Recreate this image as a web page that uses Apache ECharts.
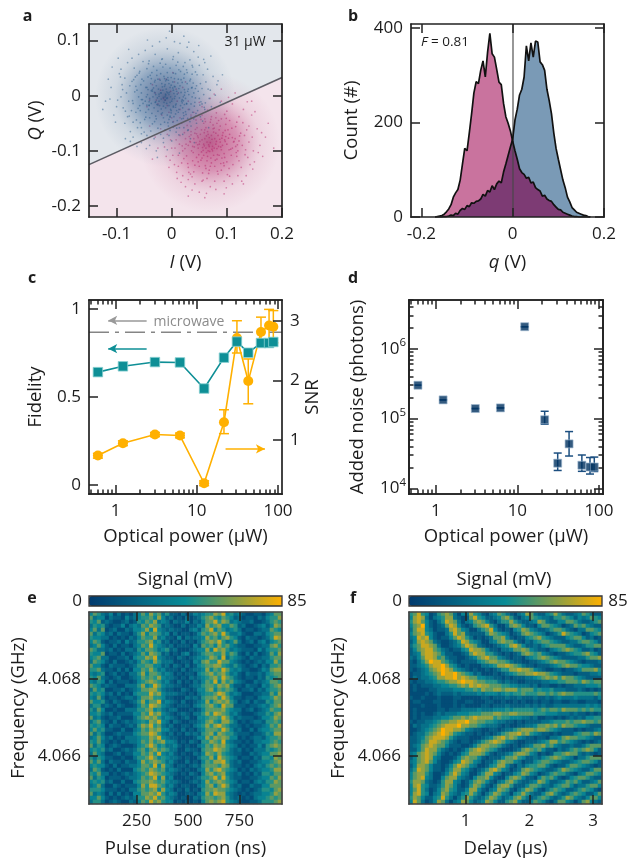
<!DOCTYPE html>
<html><head><meta charset="utf-8"><style>html,body{margin:0;padding:0;background:#fff}#c{width:630px;height:859px}</style>
<script src="https://cdn.jsdelivr.net/npm/echarts@6/dist/echarts.min.js"></script></head><body><div id="c"></div>
<script>
// ---- panel a: I/Q shots in mV, flat x,y lists
const blueShots=[-5,2,-12,-8,3,10,-20,5,8,-15,-30,-12,15,18,-2,-25,-18,22,25,-5,-35,8,12,30,-8,-35,30,12,-25,-28,-40,-5,20,-22,-14,35,5,-5,-3,15,10,3,-22,-18,18,-10,-10,12,-28,18,28,22,-38,22,-45,15,-5,-18,35,-15,-15,-40,2,25,-32,-22,40,5,22,32,-48,-10,-8,42,12,-30,-42,-25,-20,40,7,40,32,-25,-55,5,45,18,-25,30,-12,-2,0,-10,6,16,-16,10,14,-4,-26,-4,24,6,-6,28,-34,-2,4,-38,16,-18,-24,12,-4,6,-9,-14,11,23,-19,-24,-1,33,-30,28,27,-14,37,-2,-44,2,-52,-14,-36,-32,-13,-48,10,-45,26,-34,42,-12,48,8,34,30,16,44,-3,50,-27,46,-43,34,-56,20,-60,-2,-47,-30,-28,-42,-6,-55,18,-42,38,-30,50,-5,52,22,28,42,8,55,-16,52,-36,42,-54,30,-63,10,-58,-18,-40,-40,-20,-52,2,-48,22,-36,-2,-2,-7,5,1,-6,-11,3,6,-1,-15,-3,9,8,-17,16,-23,-10,13,13,-29,2,21,-2,-33,14,19,24,-21,28,-37,-14,31,2,-5,22,-11,-22,-1,-31,-41,-18,36,14,-46,-2,43,-4,-12,20,-27,-16,-3,-12,4,4,-8,-4,17,6,-19,-6,2,14,-14,-12,23,-16,-31,6,29,8,
-95,40,-110,15,-100,-20,-85,-50,-70,-75,-40,-90,-15,-85,20,-70,45,-50,60,-25,70,10,75,35,60,60,40,80,15,95,-10,105,-35,90,-60,75,-80,60,-120,-10,-90,20,-105,-35,-75,-65,-55,-85,-28,-100,0,-82,30,-62,52,-38,68,-5,82,20,65,48,48,70,28,88,5,98,-22,98,-48,82,-72,68,-92,48,-115,30,-82,5,-98,-8,-80,-38,-62,-58,-45,-72,-20,-70,8,-66,35,-55,55,-15,62,25,50,55,33,65,12,78,-8,85,-30,75,-52,62,-68,50,-85,32,-76,18,-88,-22,-70,-48,-50,-66,-32,-78,-5,-72,22,-58,44,-32,58,2,72,-20,57,38,38,52,-65,-30,-78,-10,-66,34,-70,-14,-92,-2,-64,-44,-38,-64,-12,-62,14,-58,40,-42,66,12,46,38,24,60,2,66,-18,66,-42,58,-58,44,-72,26,-84,-28,-55,-58,
-17,-31,-43,11,9,-27,-61,-23,33,27,-7,-49,-39,37,19,-13,-23,3,41,-19,-3,-39,-51,27,13,47,-29,-37,-67,7,3,-57,29,-41,47,-27,-11,57,-33,53,37,39,-49,-43,5,31,-19,-33,23,1,-37,31,-13,17,-57,-27,-1,19,17,29,-27,37,43,13,-41,-11,7,-21,-31,-47,-9,7,25,-29,-53,-7,11,61,35,-39,-65,17,51,-17,-21,59,-45,49,21,53,-71,-9,-3,-63,27,47,-59,41,-35,-51,39,23,53,-11,9,-59,-47,-39,-25,-59,33,-47,-69,29,-73,-27,55,13,61,-13,-17,67,3,71,37,55,-41,63,29,-63,-57,-49,43,43,-63,37,59,-21,-77,-37,-15,-77,13,-71,-55,-69,43,-37,-37,9,-11,27,-15,-19,-23,-1,-9,29,7,-17,-29,-11,-1,-27,23,11,19,-7,-13,31,3,-21,7,-33,-9,-5,37,15,3,-19,13,-25,21,-41,-3,-37,-31,25,-5,-43,5,17,-11,1,21,-31,23,39,-7,33,21,-9,-41,-17,-19,5,-35,11,-25,-17,27,-15,-47,15,3,41,-45,-17,-55,-7,-125,-25,-108,52,-97,68,-84,-78,-63,-92,-26,-112,14,-104,41,-85,67,-58,88,-12,92,38,71,72,49,91,22,108,-4,117,-44,101,-78,84,-102,-48,-112,-6,-89,11,-93,34,-75,-83,-46,-96,-8,-98,34,-78,56,-46,79,1,84,27,58,66,31,97];
const redShots=[70,-85,62,-95,78,-78,55,-80,85,-92,48,-95,92,-72,65,-110,75,-60,100,-88,40,-78,82,-115,60,-62,105,-70,45,-112,30,-90,95,-105,58,-50,72,-122,88,-55,110,-95,35,-65,50,-128,100,-120,115,-78,25,-78,68,-135,90,-135,120,-100,38,-118,20,-100,80,-40,55,-35,105,-45,125,-68,128,-90,15,-72,30,-130,66,-70,74,-100,58,-88,84,-72,52,-70,90,-98,44,-85,76,-66,64,-118,96,-80,68,-92,60,-78,80,-88,72,-72,54,-102,86,-108,42,-68,102,-62,36,-100,112,-84,62,-58,78,-128,48,-120,94,-122,26,-88,118,-110,70,-48,108,-108,32,-74,56,-140,84,-142,46,-58,98,-52,122,-82,22,-114,64,-150,40,-138,104,-132,72,-38,90,-42,116,-56,14,-88,132,-72,134,-98,12,-108,28,-54,44,-44,60,-42,76,-108,66,-100,82,-96,50,-88,88,-84,58,-108,74,-92,92,-90,68,-76,56,-94,80,-68,64,-84,70,-128,86,-62,38,-92,98,-74,48,-76,104,-98,34,-84,110,-76,54,-62,82,-50,62,-132,96,-112,42,-126,116,-92,24,-96,122,-118,
-10,-110,-30,-75,-5,-130,10,-150,25,-165,50,-175,80,-170,110,-160,135,-145,150,-120,160,-90,155,-60,145,-35,130,-25,110,-15,90,-10,70,-5,50,-12,30,-25,15,-40,-20,-60,-25,-95,-8,-70,0,-95,5,-125,20,-145,42,-160,70,-165,95,-155,120,-145,142,-125,148,-100,146,-75,140,-55,122,-38,100,-28,78,-22,55,-20,35,-35,5,-55,-2,-80,2,-108,12,-128,30,-152,55,-155,78,-155,105,-146,126,-130,138,-112,140,-84,136,-62,118,-48,96,-34,65,-26,40,-30,18,-50,8,-80,6,-95,18,-122,34,-142,170,-75,165,-110,175,-50,60,-185,95,-178,130,-160,185,-95,-35,-115,-40,-55,145,-10,115,5,90,12,30,-182,
59,-91,83,-107,47,-73,97,-63,71,-113,39,-103,113,-83,61,-47,89,-123,33,-83,77,-59,53,-117,107,-97,67,-141,123,-73,43,-61,99,-41,29,-123,81,-31,19,-91,133,-107,57,-153,101,-143,129,-49,37,-147,73,-97,63,-73,87,-79,51,-83,93,-67,69,-101,79,-117,41,-93,109,-59,55,-113,75,-53,95,-127,35,-71,117,-103,49,-107,85,-45,27,-109,103,-77,61,-127,91,-113,45,-69,71,-43,119,-89,23,-67,83,-137,53,-43,111,-125,31,-139,65,-65,73,-79,57,-99,89,-93,47,-89,97,-83,67,-89,77,-95,63,-103,81,-83,59,-67,91,-77,3,-47,-13,-93,-3,-117,9,-139,17,-157,37,-171,63,-177,99,-167,127,-155,147,-133,157,-103,163,-67,151,-29,137,-11,103,-3,77,3,
// shots from this state that land in the other cloud
-5,-30,-20,10,10,-10,-35,20,-10,30,5,25,-25,-15,20,15,-15,-5,-40,-8,0,-40,30,-10,-30,5,12,5,-8,-18,-22,30,15,-25,-45,-20,2,42,-2,8,-18,-35,25,25,-12,-8,-28,-8,8,12];
const iqCores=[[-0.012,-0.002],[0.069,-0.085]];
const iqBoundary=[[-0.15,-0.125],[0.2,0.033]];

// ---- panel b: histogram counts
const qBins=[-0.170,-0.165,-0.160,-0.155,-0.150,-0.145,-0.140,-0.135,-0.130,-0.125,-0.120,-0.115,-0.110,-0.105,-0.100,-0.095,-0.090,-0.085,-0.080,-0.075,-0.070,-0.065,-0.060,-0.055,-0.050,-0.045,-0.040,-0.035,-0.030,-0.025,-0.020,-0.015,-0.010,-0.005,0,0.005,0.010,0.015,0.020,0.025,0.030,0.035,0.040,0.045,0.050,0.055,0.060,0.065,0.070,0.075,0.080,0.085,0.090,0.095,0.100,0.105,0.110,0.115,0.120,0.125,0.130,0.135,0.140,0.145,0.150,0.155,0.160,0.165,0.170];
const pinkCounts=[0,1,2,3,6,11,17,26,42,51,58,78,112,145,140,178,218,262,286,282,310,330,296,348,388,345,338,312,285,280,240,212,198,182,160,140,122,102,94,90,82,84,72,74,62,58,55,44,46,38,35,33,26,21,16,15,10,8,6,4,2,1,1,0,0,0,0,0,0];
const blueCounts=[0,0,0,0,1,1,2,4,3,8,6,14,18,16,24,22,30,29,33,34,38,48,44,56,53,66,58,70,76,72,95,112,130,148,165,205,228,258,270,296,362,330,368,338,372,370,328,322,310,270,246,218,178,145,122,100,78,62,42,32,20,15,10,8,6,4,3,1,0];
const qDivider=0;

// ---- panels c, d: optical power sweep
const powerUW=[0.605,1.23,3.05,6.2,12.3,21.6,31.2,43,61.7,77.6,87.6];
const fidelity=[0.641,0.674,0.698,0.696,0.548,0.723,0.814,0.751,0.806,0.806,0.812];
const snr=[0.743,0.95,1.095,1.078,0.28,1.30,2.71,1.99,2.81,2.92,2.90];
const snrLow=[0.70,0.91,1.06,1.04,0.24,1.11,2.46,1.61,2.57,2.65,2.63];
const snrHigh=[0.78,0.99,1.13,1.12,0.32,1.51,3.0,2.36,3.06,3.19,3.17];
const noiseAdded=[3.0e5,1.85e5,1.39e5,1.42e5,2.07e6,9.6e4,2.29e4,4.33e4,2.14e4,2.02e4,2.02e4];
const noiseLow=[3.0e5,1.85e5,1.39e5,1.42e5,2.07e6,8.3e4,1.8e4,2.9e4,1.75e4,1.6e4,1.74e4];
const noiseHigh=[3.0e5,1.85e5,1.39e5,1.42e5,2.07e6,1.27e5,3.2e4,6.5e4,3.0e4,2.76e4,2.8e4];
const microwaveFidelity=[[0.47,0.867],[112,0.867]];
const logMajor=[1,10,100];
const logMinorX=[0.5,0.6,0.7,0.8,0.9,2,3,4,5,6,7,8,9,20,30,40,50,60,70,80,90];
const logMajorY=[1e4,1e5,1e6];
const logMinorY=[2e4,3e4,4e4,5e4,6e4,7e4,8e4,9e4,2e5,3e5,4e5,5e5,6e5,7e5,8e5,9e5,2e6,3e6,4e6,5e6];

// ---- panels e, f: signal maps, one digit per pixel (digit/9 of 85 mV), top row first
const rabiRows=[
"465324131213464756352213124345576845342112213466",
"634413221423455647423121312356754654231221324557",
"546232112312546573431322413246685763432231123565",
"354521224134365765232113122437567446523112342476",
"463612311324457484323221134256846534531221233654",
"635423132213574665341312212465675853342113324566",
"544331212132465573422141323347564675421322123587",
"465212231423556745231213121356768534631231342456",
"346421312213465854323122214265647564322112233675",
"653323121332546653452311123447486753432221424556",
"544612213123464765231213412356655746521313123647",
"456331122314557684322132123445764835432132233566",
"365421311232465475333112214367558664321212324475",
"644213222123556644231321312456677543532123132556",
"556322131314465753422213123347465864342211243677",
"434512312133574665343121221456756753421322324566",
"546321231123465657433212132345675865321221325456",
"435413122212456765342131213246584756432113234665",
"654232211333574586433221123356657674221322143567",
"364511223123466775322113212446746565312231324556",
"545423131214555867433322121345568753431112233647",
"436312212332466755422111323256675864221221344576",
"644521321123574668343213112347467675312313225466",
"355232132112465876432122213456754866222122343567",
"536411211333556745323311121246666754331231234655",
"445323122224465867432123213357587653421112335467",
"634212231113567675343212311445665864232221244576",
"356321312323454768431321122346754775312123325565",
"545413221232576856323112213457578653321212234657",
"464522113113465767442213121346665864231131344566",
"635311232224566875323121323256747655322212235477",
"346423121333455768432211112447576764412123324556",
"546321213233465756744312132155765843221213344565",
"635412321112456864533421211346576754312122425676",
"454523112323564675653311322156687653231213335456",
"364311231224465758434212113247657543221132344667",
"535422112113556864543321211355748654312213255476",
"646313221322475676534211312146577853231122344567",
"454421312233466584743122123256665763221213435656",
"365212131114565765634321211347578654312132344577",
"546331212323456876543212132146756743231213255466",
"635412221233465684734111212355685853221122344657",
"454523113114566765643321123247567654312213435576",
"346311321222475886534212211346746863231132244666",
"555422212133565674743121312156676654321212355467",
"634313131214466768534311221347587743212123344576",
"446421212323557685643212113256656753231213445656",
"355312321132465867544121212146767854321122355567"];
const ramseyRows=[
"568541256763143754213465321347632245753223465322",
"478731345773212685422346752134654332556542434654",
"578642135876313467642135575322347632244665322356",
"467942123687421256785311367642214665431236564322",
"368843122378643113568421214576432235665321336654",
"467854211358673222257654312367654312358654312456",
"348784212246875312123667421224567543222456642312",
"247876321123587543113467664213245665432233566542",
"356887631123468763211234578642232456666432235566",
"246788653212245877642213346676432213456765422312",
"234788764221123687755321212367656432122345567542",
"324688756322112346786643212213456765432222335667",
"213579886532122224567766532211223456766543212223",
"223457889754212111334577876532212223456766544322",
"212346789875432121121235577877643211221223466675",
"122345679889765423111212345667787765432221222334",
"132334577889787664433221212223345676757665432222",
"212233455677898876655532322112222334455666576566",
"121222334455676878776665544333231221121223334445",
"121112233334445565766776777566645445333222321212",
"111121232223233334344434545565556656567665555565",
"211211121112211111221222322322232232343334333324",
"122111221112112211122112112121121221221122112221",
"111211121112121111221222322223232322333333334343",
"121111122122233334333444545555545656657666565655",
"121211232333444555666776677666655544433323221212",
"121222334456676787777565544433231122121232324455",
"212233456677889776655433221212222334555656676656",
"132334567888977665433321211223346676757665443222",
"112345679887764322112212335677767765432221212234",
"123356789875432212121235677867543221212224566576",
"223467888753222111234678676432212213346766554322",
"223568876532122123567876432112223457756543212123",
"234678766422211246776653212123466756432232235666",
"224687753212124678765421112367656422132356567642",
"346787642121245777642122346776431212556766323212",
"246787431112467664212224667542232456765431335666",
"346786421124587643122467664312245665432234566542",
"247764221246876431124577421324556642122466543212",
"358764221357754212357864312367654322357654322466",
"467753112468643113577431224576431235655321346654",
"467843114677432146674211467642214656421245665322",
"577632125774312467642134675322347642234656422346",
"478542235764212576421367752224665332456642335664",
"468531246754224774213476521357642135654223565421",
"478541347643245753135764314575322467532356542246",
"576422458531357532357642346753235653235764324664",
"486312476313476423476422567422465421366431367432"];
const signalBar=[0,85];
const rabiDurLabels=[250,500,750];
const delayLabels=[1,2,3];
const freqLabels=[4.066,4.068];

// ---- style
const FONT="'Open Sans',sans-serif", INK='#1c1c1c', TS=17, NS=18.5;
const xAxes=[], yAxes=[];
const axisBase=(grid,type,min,max,position,ticks,o={})=>({gridIndex:grid,type,min,max,position,z:10,silent:true,
  splitLine:{show:false},splitArea:{show:false},minorTick:{show:false},
  axisLine:{show:true,onZero:false,lineStyle:{color:o.lineColor||'#222',width:1.7}},
  axisTick:{show:true,inside:true,length:o.tickLen||9,customValues:ticks,lineStyle:{color:'#222',width:1.5}},
  axisLabel:{show:!!o.fmt,customValues:ticks,formatter:o.fmt,margin:o.margin||8,fontSize:TS,fontFamily:FONT,color:INK,showMinLabel:true,showMaxLabel:true,
    rich:{sup:{fontSize:11.5,fontFamily:FONT,color:INK,verticalAlign:'top',lineHeight:24,padding:[0,0,6,0]}}},
  name:o.name||'',nameLocation:'middle',nameGap:o.gap||0,nameRotate:o.rot,
  nameTextStyle:{fontSize:NS,fontFamily:FONT,color:INK,rich:{i:{fontSize:NS,fontFamily:FONT,color:INK,fontStyle:'italic'}}}});
const addX=a=>{xAxes.push(a);return xAxes.length-1}, addY=a=>{yAxes.push(a);return yAxes.length-1};
const plain=v=>String(v), dec=v=>v===0?'0':String(v);
const sup=v=>`10{sup|${Math.round(Math.log10(v))}}`;
const grids=[
 {left:89,top:24,width:193,height:193},{left:411,top:24,width:193,height:193},
 {left:89,top:300,width:193,height:194},{left:409,top:300,width:194,height:194},
 {left:89,top:612,width:193,height:192},{left:409,top:612,width:193,height:192}];

// panel a axes
const aX=addX(axisBase(0,'value',-0.15,0.2,'bottom',[-0.1,0,0.1,0.2],{fmt:dec,name:'{i|I} (V)',gap:36,margin:9}));
addX(axisBase(0,'value',-0.15,0.2,'top',[-0.1,0,0.1,0.2]));
const aY=addY(axisBase(0,'value',-0.22,0.13,'left',[-0.2,-0.1,0,0.1],{fmt:dec,name:'{i|Q} (V)',gap:44,rot:90}));
addY(axisBase(0,'value',-0.22,0.13,'right',[-0.2,-0.1,0,0.1]));
// panel b axes
const bX=addX(axisBase(1,'value',-0.2227,0.2,'bottom',[-0.2,0,0.2],{fmt:dec,name:'{i|q} (V)',gap:36,margin:9}));
addX(axisBase(1,'value',-0.2227,0.2,'top',[-0.2,0,0.2]));
const bY=addY(axisBase(1,'value',0,408,'left',[0,200,400],{fmt:plain,name:'Count (#)',gap:50,rot:90}));
addY(axisBase(1,'value',0,408,'right',[0,200,400]));
// panel c axes
const cX=addX(axisBase(2,'log',0.47,112,'bottom',logMajor,{fmt:plain,name:'Optical power (µW)',gap:33,margin:9}));
addX(axisBase(2,'log',0.47,112,'top',logMajor));
addX(axisBase(2,'log',0.47,112,'bottom',logMinorX,{tickLen:4.5}));
addX(axisBase(2,'log',0.47,112,'top',logMinorX,{tickLen:4.5}));
const cY=addY(axisBase(2,'value',-0.05,1.05,'left',[0,0.5,1],{fmt:dec,name:'Fidelity',gap:44,rot:90}));
const cY2=addY(axisBase(2,'value',0.1,3.347,'right',[1,2,3],{fmt:plain,name:'SNR',gap:21,rot:90}));
// panel d axes
const dX=addX(axisBase(3,'log',0.47,112,'bottom',logMajor,{fmt:plain,name:'Optical power (µW)',gap:33,margin:9}));
addX(axisBase(3,'log',0.47,112,'top',logMajor));
addX(axisBase(3,'log',0.47,112,'bottom',logMinorX,{tickLen:4.5}));
addX(axisBase(3,'log',0.47,112,'top',logMinorX,{tickLen:4.5}));
const dY=addY(axisBase(3,'log',8280,5.0e6,'left',logMajorY,{fmt:sup,name:'Added noise (photons)',gap:42,rot:90,margin:3}));
addY(axisBase(3,'log',8280,5.0e6,'right',logMajorY));
addY(axisBase(3,'log',8280,5.0e6,'left',logMinorY,{tickLen:4.5}));
addY(axisBase(3,'log',8280,5.0e6,'right',logMinorY,{tickLen:4.5}));
// panels e, f axes: value axes carry the ticks, hidden band axes carry the pixels
function mapAxes(g,xMin,xMax,xt,xName){
  addX(axisBase(g,'value',xMin,xMax,'bottom',xt,{fmt:plain,name:xName,gap:35,margin:9,lineColor:'#444'}));
  addX(axisBase(g,'value',xMin,xMax,'top',xt,{lineColor:'#444'}));
  addY(axisBase(g,'value',4.06475,4.06974,'left',freqLabels,{fmt:v=>v.toFixed(3),name:'Frequency (GHz)',gap:61,rot:90,lineColor:'#444'}));
  addY(axisBase(g,'value',4.06475,4.06974,'right',freqLabels,{lineColor:'#444'}));
  const n=48, idx=Array.from({length:n},(_,i)=>i);
  const hx=addX({gridIndex:g,type:'category',data:idx,show:false,position:'bottom'});
  const hy=addY({gridIndex:g,type:'category',data:idx,show:false,position:'left'});
  return [hx,hy];
}
const [eHx,eHy]=mapAxes(4,17.6,958,rabiDurLabels,'Pulse duration (ns)');
const [fHx,fHy]=mapAxes(5,0.11,3.14,delayLabels,'Delay (µs)');

// data shaping
const pairs=(f)=>{const o=[];for(let i=0;i<f.length;i+=2)o.push([f[i]/1000,f[i+1]/1000]);return o};
const byIndex=(ax,ay)=>ax.map((x,i)=>[x,ay[i]]);
const cells=rows=>{const o=[];rows.forEach((r,ri)=>{for(let c=0;c<r.length;c++)o.push([c,rows.length-1-ri,+r[c]/9*85])});return o};
const overlapCounts=pinkCounts.map((v,i)=>Math.min(v,blueCounts[i]));
const errorBars=(color,capPx,xi,yi,low,high,z)=>({type:'custom',xAxisIndex:xi,yAxisIndex:yi,z,clip:false,
  data:powerUW.map((x,i)=>[x,low[i],high[i]]),encode:{x:0,y:[1,2]},
  renderItem:(p,api)=>{
    const a=api.coord([api.value(0),api.value(1)]), b=api.coord([api.value(0),api.value(2)]);
    const st={stroke:color,lineWidth:1.5,fill:null};
    const seg=(x1,y1,x2,y2)=>({type:'line',shape:{x1,y1,x2,y2},style:st});
    return {type:'group',children:[seg(a[0],a[1],b[0],b[1]),seg(a[0]-capPx,a[1],a[0]+capPx,a[1]),seg(b[0]-capPx,b[1],b[0]+capPx,b[1])]};
  }});
const radial=(c0,c1,c2)=>({type:'radial',x:.5,y:.5,r:.5,colorStops:[{offset:0,color:c0},{offset:.4,color:c1},{offset:.72,color:c2},{offset:1,color:c2.replace(/[\d.]+\)$/,'0)')}]});
const arrow=(x1,y1,x2,y2,color)=>[{coord:[x1,y1],symbol:'none',lineStyle:{color,width:1.5,type:'solid'}},{coord:[x2,y2],symbol:'arrow',symbolSize:[7,9]}];

const series=[
 // panel a
 {type:'custom',xAxisIndex:aX,yAxisIndex:aY,z:1,clip:true,data:[[0]],silent:true,encode:{x:[],y:[]},
  renderItem:(p,api)=>{
    const L=api.coord(iqBoundary[0]),R=api.coord(iqBoundary[1]),rect=p.coordSys;
    const T=rect.y,B=rect.y+rect.height,X0=rect.x,X1=rect.x+rect.width;
    return {type:'group',children:[
     {type:'polygon',shape:{points:[[X0,T],[X1,T],R,L]},style:{fill:'#e3e7ec'}},
     {type:'polygon',shape:{points:[L,R,[X1,B],[X0,B]]},style:{fill:'#f4e4ec'}}]};
  }},
 {type:'scatter',xAxisIndex:aX,yAxisIndex:aY,z:2,silent:true,data:[iqCores[1]],symbolSize:140,itemStyle:{color:radial('rgba(160,15,85,.8)','rgba(180,45,110,.55)','rgba(205,130,165,.2)')}},
 {type:'scatter',xAxisIndex:aX,yAxisIndex:aY,z:3,silent:true,data:pairs(redShots),symbolSize:1.7,itemStyle:{color:'rgba(180,25,100,.55)'}},
 {type:'scatter',xAxisIndex:aX,yAxisIndex:aY,z:4,silent:true,data:[iqCores[0]],symbolSize:140,itemStyle:{color:radial('rgba(30,55,110,.88)','rgba(50,95,145,.6)','rgba(110,140,170,.2)')}},
 {type:'scatter',xAxisIndex:aX,yAxisIndex:aY,z:5,silent:true,data:pairs(blueShots),symbolSize:1.7,itemStyle:{color:'rgba(30,85,135,.55)'}},
 {type:'line',xAxisIndex:aX,yAxisIndex:aY,z:6,data:iqBoundary,symbol:'none',lineStyle:{color:'#5b5b63',width:1.6}},
 // panel b
 {type:'line',xAxisIndex:bX,yAxisIndex:bY,z:2,data:byIndex(qBins,pinkCounts),symbol:'none',lineStyle:{width:0},areaStyle:{color:'#c9739e',opacity:1}},
 {type:'line',xAxisIndex:bX,yAxisIndex:bY,z:3,data:byIndex(qBins,blueCounts),symbol:'none',lineStyle:{width:0},areaStyle:{color:'#7a9ab6',opacity:1}},
 {type:'line',xAxisIndex:bX,yAxisIndex:bY,z:4,data:byIndex(qBins,overlapCounts),symbol:'none',lineStyle:{width:0},areaStyle:{color:'#7d3b74',opacity:1}},
 {type:'line',xAxisIndex:bX,yAxisIndex:bY,z:5,data:byIndex(qBins,pinkCounts),symbol:'none',lineStyle:{color:'#111',width:1.7}},
 {type:'line',xAxisIndex:bX,yAxisIndex:bY,z:5,data:byIndex(qBins,blueCounts),symbol:'none',lineStyle:{color:'#111',width:1.7},
  markLine:{silent:true,symbol:'none',label:{show:false},animation:false,data:[{xAxis:qDivider}],lineStyle:{color:'rgba(70,70,70,.7)',width:1.6,type:'solid'}}},
 // panel c
 {type:'line',xAxisIndex:cX,yAxisIndex:cY,z:2,data:microwaveFidelity,symbol:'none',lineStyle:{color:'#858585',width:1.7,type:[20,6,4,6]}},
 errorBars('#ffb000',5,cX,cY2,snrLow,snrHigh,3),
 {type:'line',xAxisIndex:cX,yAxisIndex:cY2,z:4,data:byIndex(powerUW,snr),symbol:'circle',symbolSize:10,lineStyle:{color:'#ffb000',width:1.6},itemStyle:{color:'#ffb000'},
  markLine:{silent:true,animation:false,label:{show:false},data:[arrow(22.6,0.855,69,0.855,'#ffb000')]}},
 {type:'line',xAxisIndex:cX,yAxisIndex:cY,z:5,data:byIndex(powerUW,fidelity),symbol:'rect',symbolSize:9.5,lineStyle:{color:'#0e8f96',width:1.6},itemStyle:{color:'#0e8f96',borderColor:'#86cfd0',borderWidth:.8},
  markLine:{silent:true,animation:false,label:{show:false},data:[
    arrow(2.41,0.934,0.81,0.934,'#999'),arrow(2.41,0.774,0.81,0.774,'#0e8f96')]}},
 // panel d
 errorBars('#1c4f80',4,dX,dY,noiseLow,noiseHigh,3),
 {type:'scatter',xAxisIndex:dX,yAxisIndex:dY,z:4,data:byIndex(powerUW,noiseAdded),symbol:'rect',symbolSize:8,itemStyle:{color:'#00315f',borderColor:'#9fb8d0',borderWidth:.8}},
 // panels e, f
 {type:'heatmap',xAxisIndex:eHx,yAxisIndex:eHy,z:2,data:cells(rabiRows),silent:true,progressive:0,itemStyle:{borderWidth:0}},
 {type:'heatmap',xAxisIndex:fHx,yAxisIndex:fHy,z:2,data:cells(ramseyRows),silent:true,progressive:0,itemStyle:{borderWidth:0}}
];
const heatE=series.length-2, heatF=series.length-1;
const ramp=['#013a6e','#0a8c96','#fdb000'];
const vm=(left,idx)=>({type:'continuous',seriesIndex:idx,min:signalBar[0],max:signalBar[1],orient:'horizontal',left,top:596,itemWidth:10,itemHeight:193,calculable:false,realtime:false,text:null,padding:0,inRange:{color:ramp},hoverLink:false});

const txt=(x,y,text,o={})=>({type:'text',x,y,silent:true,z:50,style:{text,fontFamily:FONT,fontSize:o.size||TS,fill:o.fill||INK,fontWeight:o.weight||'normal',textAlign:o.align||'center',textVerticalAlign:'middle'}});
const frame=(x)=>({type:'rect',silent:true,z:50,shape:{x,y:596,width:193,height:10},style:{fill:null,stroke:'#333',lineWidth:1.3}});
const itS={i:{fontFamily:FONT,fontSize:13.5,fontStyle:'italic',fill:INK,color:INK}};
const graphic=[
 txt(27.5,16,'a',{size:16,weight:'bold'}),txt(353,16,'b',{size:16,weight:'bold'}),
 txt(32,278,'c',{size:16,weight:'bold'}),txt(353,278,'d',{size:16,weight:'bold'}),
 txt(32,598,'e',{size:16,weight:'bold'}),txt(353,598,'f',{size:16,weight:'bold'}),
 txt(245,42,'31 µW',{size:14}),
 {type:'text',x:421,y:42,silent:true,z:50,style:{text:'{i|F} = 0.81',fontFamily:FONT,fontSize:13.5,fill:INK,textVerticalAlign:'middle',rich:itS}},
 txt(189,322,'microwave',{size:14,fill:'#8b8b8b'}),
 txt(185,580,'Signal (mV)',{size:18.5}),txt(504,580,'Signal (mV)',{size:18.5}),
 txt(77,601,'0',{size:17}),txt(297,601,'85',{size:17}),
 txt(397,601,'0',{size:17}),txt(618,601,'85',{size:17}),
 frame(89),frame(409)];

const chart=echarts.init(document.getElementById('c'),null,{renderer:'canvas'});
chart.setOption({animation:false,backgroundColor:'#fff',grid:grids,xAxis:xAxes,yAxis:yAxes,series,graphic,
  visualMap:[vm(89,heatE),vm(409,heatF)],tooltip:{show:false}});
</script></body></html>
